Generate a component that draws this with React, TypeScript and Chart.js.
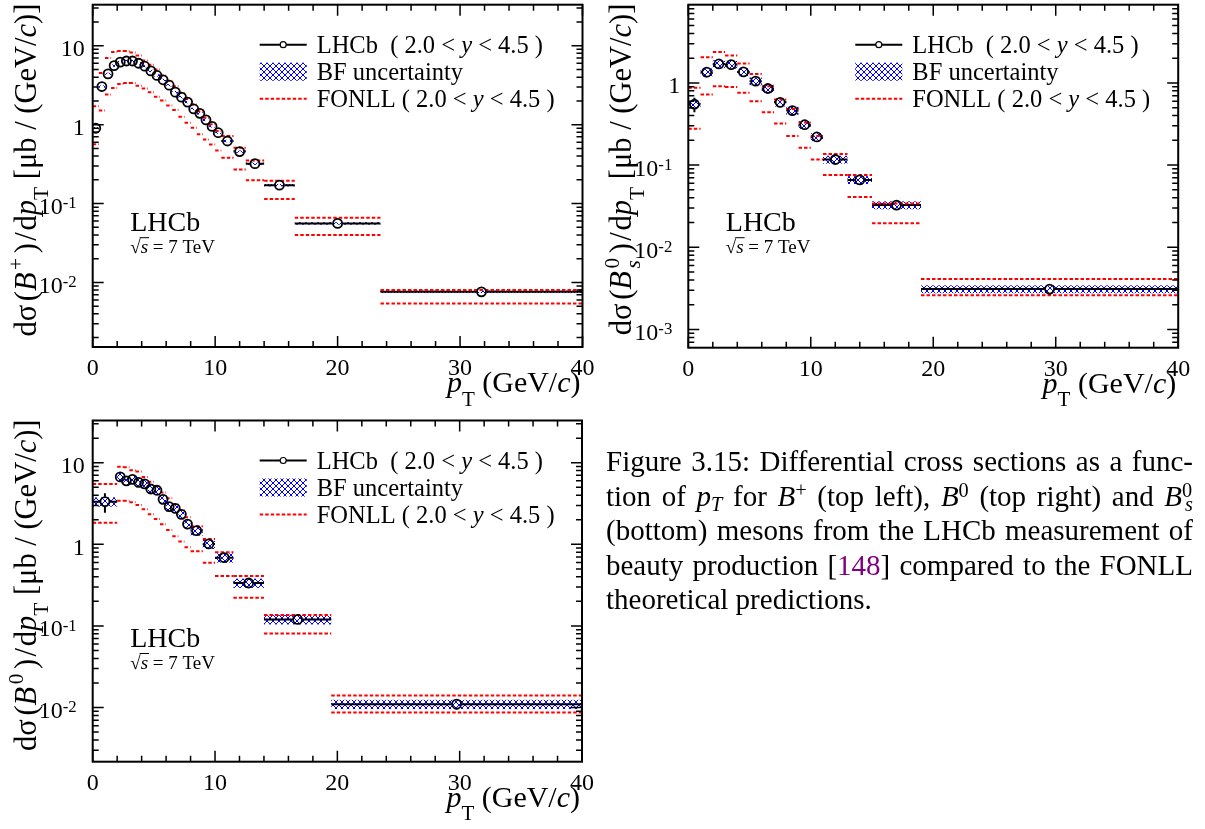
import React, { useEffect, useRef } from 'react';
import { Chart, registerables } from 'chart.js';

Chart.register(...registerables);

const SERIF = '"Liberation Serif", "Times New Roman", Times, serif';
const W = 1205;
const H = 829;

// ---------------- shared axis settings ----------------
const xTickValues = [0, 10, 20, 30, 40];
const xTickLabels = ['0', '10', '20', '30', '40'];
const xMinorStep = 2;

// ---------------- top-left panel: B+ ----------------
const bpEdges = [0, 0.5, 1, 1.5, 2, 2.5, 3, 3.5, 4, 4.5, 5, 5.5, 6, 6.5, 7, 7.5, 8, 8.5, 9, 9.5, 10, 10.5, 11.5, 12.5, 14, 16.5, 23.5, 40];
const bpValues = [0.9, 3.04, 4.4, 5.6, 6.2, 6.4, 6.4, 6.0, 5.5, 4.8, 4.2, 3.7, 3.16, 2.58, 2.23, 1.93, 1.58, 1.39, 1.15, 0.95, 0.79, 0.62, 0.455, 0.32, 0.171, 0.056, 0.0076];
const bpFonllUp = [1.71, 4.5, 7.0, 8.3, 8.55, 8.55, 8.2, 7.5, 6.5, 5.75, 5.0, 4.2, 3.6, 3.07, 2.52, 2.12, 1.8, 1.48, 1.22, 1.01, 0.83, 0.72, 0.51, 0.35, 0.195, 0.066, 0.008];
const bpFonllLow = [0.565, 1.51, 2.41, 2.92, 3.28, 3.38, 3.38, 3.12, 2.87, 2.58, 2.25, 2.02, 1.75, 1.53, 1.26, 1.06, 0.91, 0.755, 0.65, 0.56, 0.47, 0.38, 0.27, 0.197, 0.114, 0.04, 0.0054];
const bpErr = [0.08, 0.07, 0.07, 0.07, 0.07, 0.07, 0.07, 0.07, 0.07, 0.07, 0.07, 0.07, 0.07, 0.07, 0.07, 0.07, 0.07, 0.07, 0.07, 0.07, 0.07, 0.07, 0.07, 0.07, 0.07, 0.08, 0.1];
const bpBF = 0.035;
const bpYTicks = [10, 1, 0.1, 0.01];
const bpYTickLabels = ['10', '1', '10^-1', '10^-2'];

// ---------------- top-right panel: Bs0 ----------------
const bsEdges = [0, 1, 2, 3, 4, 5, 6, 7, 8, 9, 10, 11, 13, 15, 19, 40];
const bsValues = [0.55, 1.35, 1.7, 1.67, 1.36, 1.05, 0.855, 0.58, 0.46, 0.31, 0.22, 0.117, 0.066, 0.0326, 0.0031];
const bsFonllUp = [0.87, 2.05, 2.37, 2.16, 1.72, 1.28, 0.91, 0.63, 0.48, 0.33, 0.226, 0.136, 0.076, 0.034, 0.0041];
const bsFonllLow = [0.277, 0.72, 0.91, 0.89, 0.76, 0.6, 0.44, 0.32, 0.226, 0.163, 0.117, 0.076, 0.041, 0.0196, 0.0026];
const bsErr = [0.2, 0.14, 0.12, 0.12, 0.12, 0.12, 0.12, 0.12, 0.12, 0.12, 0.12, 0.12, 0.12, 0.13, 0.15];
const bsBF = 0.11;
const bsYTicks = [1, 0.1, 0.01, 0.001];
const bsYTickLabels = ['1', '10^-1', '10^-2', '10^-3'];

// ---------------- bottom panel: B0 ----------------
const b0Edges = [0, 2, 2.5, 3, 3.5, 4, 4.5, 5, 5.5, 6, 6.5, 7, 7.5, 8, 9, 10, 11.5, 14, 19.5, 40];
const b0Values = [3.33, 6.7, 6.0, 6.25, 5.75, 5.5, 4.76, 4.6, 3.56, 2.89, 2.76, 2.33, 1.77, 1.47, 1.01, 0.686, 0.336, 0.12, 0.011];
const b0FonllUp = [5.5, 8.9, 8.8, 8.1, 7.8, 6.7, 5.85, 5.1, 4.3, 3.66, 3.09, 2.63, 2.14, 1.66, 1.16, 0.8, 0.41, 0.136, 0.014];
const b0FonllLow = [1.84, 3.42, 3.42, 3.27, 3.03, 2.69, 2.33, 2.04, 1.76, 1.5, 1.26, 1.08, 0.92, 0.82, 0.596, 0.41, 0.222, 0.081, 0.0087];
const b0Err = [0.27, 0.1, 0.08, 0.08, 0.08, 0.08, 0.08, 0.08, 0.08, 0.08, 0.08, 0.08, 0.08, 0.08, 0.1, 0.1, 0.1, 0.1, 0.15];
const b0BF = 0.13;
const b0YTicks = [10, 1, 0.1, 0.01];
const b0YTickLabels = ['10', '1', '10^-1', '10^-2'];

// ---------------- rich text ----------------
type Seg = { t?: string; it?: boolean; sup?: string; sub?: string; supIt?: boolean; subIt?: boolean; dy?: number; pad?: number; color?: string };

const fontStr = (size: number, it?: boolean) => `${it ? 'italic ' : ''}${size}px ${SERIF}`;

function segWidth(ctx: CanvasRenderingContext2D, s: Seg, size: number, sc: number) {
  const extra = (s.pad || 0) * size;
  if (s.t !== undefined) {
    ctx.font = fontStr(size, s.it);
    return ctx.measureText(s.t).width + extra;
  }
  let w = 0;
  if (s.sup) {
    ctx.font = fontStr(size * sc, s.supIt);
    w = Math.max(w, ctx.measureText(s.sup).width);
  }
  if (s.sub) {
    ctx.font = fontStr(size * sc, s.subIt);
    w = Math.max(w, ctx.measureText(s.sub).width);
  }
  return w + extra;
}

function drawRich(
  ctx: CanvasRenderingContext2D,
  segs: Seg[],
  x: number,
  y: number,
  size: number,
  align: 'left' | 'right' | 'center',
  o: { sc?: number; supDy?: number; subDy?: number } = {}
) {
  const sc = o.sc ?? 0.7;
  const supDy = o.supDy ?? 0.4;
  const subDy = o.subDy ?? 0.3;
  const widths = segs.map((s) => segWidth(ctx, s, size, sc));
  const total = widths.reduce((a, b) => a + b, 0);
  let cx = align === 'right' ? x - total : align === 'center' ? x - total / 2 : x;
  ctx.textAlign = 'left';
  ctx.textBaseline = 'alphabetic';
  segs.forEach((s, i) => {
    ctx.fillStyle = s.color || '#000';
    if (s.t !== undefined) {
      ctx.font = fontStr(size, s.it);
      ctx.fillText(s.t, cx, y);
    } else {
      if (s.sup) {
        ctx.font = fontStr(size * sc, s.supIt);
        ctx.fillText(s.sup, cx, y - size * (s.sub ? supDy : s.dy ?? supDy));
      }
      if (s.sub) {
        ctx.font = fontStr(size * sc, s.subIt);
        ctx.fillText(s.sub, cx, y + size * (s.sup ? subDy : s.dy ?? subDy));
      }
    }
    cx += widths[i];
  });
  return total;
}

// ---------------- panel definitions ----------------
interface PanelDef {
  key: string;
  frame: { left: number; top: number; right: number; bottom: number };
  yMin: number;
  yMax: number;
  edges: number[];
  values: number[];
  fonllUp: number[];
  fonllLow: number[];
  err: number[];
  bf: number;
  yTicks: number[];
  yTickLabels: string[];
  yTitle: Seg[];
}

const head: Seg[] = [{ t: 'dσ', pad: 0.12 }, { t: '(' }, { t: 'B', it: true, pad: 0.08 }];
const tail: Seg[] = [
  { t: ')', pad: 0.08 },
  { t: '/', pad: 0.06 },
  { t: 'd' },
  { t: 'p', it: true },
  { sub: 'T', dy: 0.4 },
  { t: ' [μb / (GeV/' },
  { t: 'c', it: true },
  { t: ')]' },
];

const panels: PanelDef[] = [
  {
    key: 'bplus',
    frame: { left: 92.7, top: 4.7, right: 582.5, bottom: 347 },
    yMin: 0.00152,
    yMax: 31.6,
    edges: bpEdges,
    values: bpValues,
    fonllUp: bpFonllUp,
    fonllLow: bpFonllLow,
    err: bpErr,
    bf: bpBF,
    yTicks: bpYTicks,
    yTickLabels: bpYTickLabels,
    yTitle: [...head, { sup: '+', dy: 0.42, pad: 0.15 }, ...tail],
  },
  {
    key: 'bs',
    frame: { left: 688.3, top: 4.7, right: 1178.2, bottom: 347.7 },
    yMin: 0.000602,
    yMax: 8.55,
    edges: bsEdges,
    values: bsValues,
    fonllUp: bsFonllUp,
    fonllLow: bsFonllLow,
    err: bsErr,
    bf: bsBF,
    yTicks: bsYTicks,
    yTickLabels: bsYTickLabels,
    yTitle: [...head, { sup: '0', sub: 's', subIt: true, pad: 0.15 }, ...tail],
  },
  {
    key: 'b0',
    frame: { left: 92.7, top: 420.5, right: 582, bottom: 761.7 },
    yMin: 0.00217,
    yMax: 32.9,
    edges: b0Edges,
    values: b0Values,
    fonllUp: b0FonllUp,
    fonllLow: b0FonllLow,
    err: b0Err,
    bf: b0BF,
    yTicks: b0YTicks,
    yTickLabels: b0YTickLabels,
    yTitle: [...head, { sup: '0', dy: 0.42, pad: 0.15 }, ...tail],
  },
];

const xTitle: Seg[] = [{ t: 'p', it: true }, { sub: 'T', dy: 0.45 }, { t: ' (GeV/' }, { t: 'c', it: true }, { t: ')' }];
const legendData: Seg[] = [{ t: 'LHCb  ( 2.0 < ' }, { t: 'y', it: true }, { t: ' < 4.5 )' }];
const legendBF: Seg[] = [{ t: 'BF uncertainty' }];
const legendFonll: Seg[] = [{ t: 'FONLL ( 2.0 < ' }, { t: 'y', it: true }, { t: ' < 4.5 )' }];

const FONLL_DASH = [3.5, 2];

function makeHatch(ctx: CanvasRenderingContext2D) {
  const c = document.createElement('canvas');
  c.width = 6;
  c.height = 6;
  const g = c.getContext('2d')!;
  g.strokeStyle = '#0000ff';
  g.lineWidth = 1;
  g.beginPath();
  for (const o of [-6, 0, 6]) {
    g.moveTo(o, 0);
    g.lineTo(o + 6, 6);
    g.moveTo(o + 6, 0);
    g.lineTo(o, 6);
  }
  g.stroke();
  return ctx.createPattern(c, 'repeat')!;
}

function makePlugin(p: PanelDef, hatch: CanvasPattern) {
  return {
    id: 'panel_' + p.key,
    beforeDatasetsDraw(chart: any) {
      const { ctx, chartArea: ca } = chart;
      const xs = chart.scales.x;
      const ys = chart.scales.y;
      ctx.save();
      ctx.beginPath();
      ctx.rect(ca.left, ca.top, ca.right - ca.left, ca.bottom - ca.top);
      ctx.clip();
      // BF uncertainty boxes
      ctx.fillStyle = hatch;
      p.values.forEach((v, i) => {
        const x1 = xs.getPixelForValue(p.edges[i]);
        const x2 = xs.getPixelForValue(p.edges[i + 1]);
        const y1 = ys.getPixelForValue(v * (1 + p.bf));
        const y2 = ys.getPixelForValue(v * (1 - p.bf));
        ctx.fillRect(x1, y1, x2 - x1, y2 - y1);
      });
      // error bars
      ctx.strokeStyle = '#000';
      ctx.lineWidth = 2;
      ctx.beginPath();
      const r = 5;
      p.values.forEach((v, i) => {
        const x1 = xs.getPixelForValue(p.edges[i]);
        const x2 = xs.getPixelForValue(p.edges[i + 1]);
        const px = xs.getPixelForValue((p.edges[i] + p.edges[i + 1]) / 2);
        const py = ys.getPixelForValue(v);
        if (px - r > x1) {
          ctx.moveTo(x1, py);
          ctx.lineTo(px - r, py);
        }
        if (x2 > px + r) {
          ctx.moveTo(px + r, py);
          ctx.lineTo(x2, py);
        }
        const yt = ys.getPixelForValue(v * (1 + p.err[i]));
        const yb = ys.getPixelForValue(v * (1 - p.err[i]));
        if (py - r > yt) {
          ctx.moveTo(px, yt);
          ctx.lineTo(px, py - r);
        }
        if (yb > py + r) {
          ctx.moveTo(px, py + r);
          ctx.lineTo(px, yb);
        }
      });
      ctx.stroke();
      ctx.restore();
    },
    afterDraw(chart: any) {
      const { ctx } = chart;
      const xs = chart.scales.x;
      const ys = chart.scales.y;
      const f = p.frame;
      ctx.save();
      // ticks
      ctx.strokeStyle = '#000';
      ctx.lineWidth = 1.5;
      ctx.setLineDash([]);
      ctx.beginPath();
      for (let v = 0; v <= 40; v += xMinorStep) {
        const px = xs.getPixelForValue(v);
        const len = v % 10 === 0 ? 11 : 6;
        ctx.moveTo(px, f.bottom);
        ctx.lineTo(px, f.bottom - len);
        ctx.moveTo(px, f.top);
        ctx.lineTo(px, f.top + len);
      }
      const k0 = Math.floor(Math.log10(p.yMin));
      const k1 = Math.ceil(Math.log10(p.yMax));
      for (let k = k0; k <= k1; k++) {
        for (let m = 1; m <= 9; m++) {
          const val = m * Math.pow(10, k);
          if (val <= p.yMin * 1.0001 || val >= p.yMax * 0.9999) continue;
          const py = ys.getPixelForValue(val);
          const len = m === 1 ? 11 : 6;
          ctx.moveTo(f.left, py);
          ctx.lineTo(f.left + len, py);
          ctx.moveTo(f.right, py);
          ctx.lineTo(f.right - len, py);
        }
      }
      ctx.stroke();
      // frame
      ctx.lineWidth = 2;
      ctx.strokeRect(f.left, f.top, f.right - f.left, f.bottom - f.top);
      // x tick labels
      xTickValues.forEach((v, i) => {
        drawRich(ctx, [{ t: xTickLabels[i] }], xs.getPixelForValue(v), f.bottom + 28, 24, 'center');
      });
      // y tick labels
      p.yTicks.forEach((v, i) => {
        const lab = p.yTickLabels[i];
        const py = ys.getPixelForValue(v);
        if (lab.includes('^')) {
          const [b, e] = lab.split('^');
          drawRich(ctx, [{ t: b }, { sup: e }], f.left - 16, py + 10.5, 24, 'right', { supDy: 0.24 });
        } else {
          drawRich(ctx, [{ t: lab }], f.left - 8, py + 10.5, 24, 'right');
        }
      });
      // axis titles
      drawRich(ctx, xTitle, f.right - 2, f.bottom + 45, 30, 'right');
      ctx.save();
      ctx.translate(f.left - 57, f.top - 1);
      ctx.rotate(-Math.PI / 2);
      drawRich(ctx, p.yTitle, 0, 0, 30.5, 'right');
      ctx.restore();
      // legend
      const lx1 = f.left + 167;
      const lx2 = f.left + 214;
      const tx = f.left + 224;
      const r1 = f.top + 40;
      const r3 = f.top + 94;
      ctx.strokeStyle = '#000';
      ctx.lineWidth = 2;
      ctx.beginPath();
      ctx.moveTo(lx1, r1);
      ctx.lineTo(lx2, r1);
      ctx.stroke();
      ctx.beginPath();
      ctx.arc((lx1 + lx2) / 2, r1, 3, 0, Math.PI * 2);
      ctx.fillStyle = '#fff';
      ctx.fill();
      ctx.lineWidth = 1.2;
      ctx.stroke();
      ctx.fillStyle = hatch;
      ctx.fillRect(lx1, f.top + 58, lx2 - lx1, 18);
      ctx.strokeStyle = '#ff0000';
      ctx.lineWidth = 2;
      ctx.setLineDash(FONLL_DASH);
      ctx.beginPath();
      ctx.moveTo(lx1, r3);
      ctx.lineTo(lx2, r3);
      ctx.stroke();
      ctx.setLineDash([]);
      drawRich(ctx, legendData, tx, r1 + 8, 24.5, 'left');
      drawRich(ctx, legendBF, tx, f.top + 67 + 8, 24.5, 'left');
      drawRich(ctx, legendFonll, tx, r3 + 8, 24.5, 'left');
      // LHCb label
      drawRich(ctx, [{ t: 'LHCb' }], f.left + 37.5, f.top + 226.5, 28, 'left');
      const sx = f.left + 37.5;
      const sy = f.top + 248;
      const w1 = drawRich(ctx, [{ t: '√' }], sx, sy, 19, 'left');
      const w2 = drawRich(ctx, [{ t: 's', it: true }], sx + w1, sy, 19, 'left');
      drawRich(ctx, [{ t: ' = 7 TeV' }], sx + w1 + w2, sy, 19, 'left');
      ctx.strokeStyle = '#000';
      ctx.lineWidth = 1;
      ctx.beginPath();
      ctx.moveTo(sx + w1 - 1, sy - 15);
      ctx.lineTo(sx + w1 + w2 + 1, sy - 15);
      ctx.stroke();
      ctx.restore();
    },
  };
}

function buildConfig(p: PanelDef, hatch: CanvasPattern): any {
  const pts = p.values.map((v, i) => ({ x: (p.edges[i] + p.edges[i + 1]) / 2, y: v }));
  const steps = (arr: number[]) =>
    arr.flatMap((v, i) => [
      { x: p.edges[i], y: v },
      { x: p.edges[i + 1], y: v },
      { x: p.edges[i + 1], y: null },
    ]);
  const f = p.frame;
  const fonllStyle = {
    type: 'line',
    showLine: true,
    borderColor: '#ff0000',
    borderWidth: 2,
    borderDash: FONLL_DASH,
    pointRadius: 0,
    pointHoverRadius: 0,
    spanGaps: false,
    fill: false,
    tension: 0,
    order: 1,
  };
  return {
    type: 'scatter',
    data: {
      datasets: [
        {
          type: 'scatter',
          label: 'LHCb',
          data: pts,
          showLine: false,
          pointRadius: 4.5,
          pointHoverRadius: 4.5,
          pointBorderWidth: 1.8,
          pointBorderColor: '#000',
          pointBackgroundColor: 'rgba(0,0,0,0)',
          order: 0,
        },
        { ...fonllStyle, label: 'FONLL upper', data: steps(p.fonllUp) },
        { ...fonllStyle, label: 'FONLL lower', data: steps(p.fonllLow) },
      ],
    },
    options: {
      responsive: false,
      animation: false,
      devicePixelRatio: 1,
      events: [],
      layout: { padding: { left: f.left, top: f.top, right: W - f.right, bottom: H - f.bottom } },
      scales: {
        x: { type: 'linear', min: 0, max: 40, display: false },
        y: { type: 'logarithmic', min: p.yMin, max: p.yMax, display: false },
      },
      plugins: { legend: { display: false }, tooltip: { enabled: false } },
    },
    plugins: [makePlugin(p, hatch)],
  };
}

function PanelChart({ def }: { def: PanelDef }) {
  const ref = useRef<HTMLCanvasElement>(null);
  useEffect(() => {
    const canvas = ref.current!;
    const hatch = makeHatch(canvas.getContext('2d')!);
    const chart = new Chart(canvas, buildConfig(def, hatch));
    return () => chart.destroy();
  }, [def]);
  return (
    <canvas
      ref={ref}
      width={W}
      height={H}
      style={{ position: 'absolute', left: 0, top: 0, width: W, height: H }}
    />
  );
}

const supStyle: React.CSSProperties = { fontSize: '0.7em', lineHeight: 0, verticalAlign: '0.45em' };
const subStyle: React.CSSProperties = { fontSize: '0.7em', lineHeight: 0, verticalAlign: '-0.25em' };

function Caption() {
  const line = (last: boolean): React.CSSProperties => ({
    height: 34.5,
    textAlign: 'justify',
    textAlignLast: last ? 'left' : 'justify',
  });
  return (
    <div
      style={{
        position: 'absolute',
        left: 606,
        top: 444,
        width: 587,
        fontFamily: SERIF,
        fontSize: 29,
        lineHeight: '34.5px',
        color: '#000',
      }}
    >
      <div style={line(false)}>Figure 3.15: Differential cross sections as a func-</div>
      <div style={line(false)}>
        tion of <i>p</i>
        <sub style={subStyle}>
          <i>T</i>
        </sub>{' '}
        for <i>B</i>
        <sup style={supStyle}>+</sup> (top left), <i>B</i>
        <sup style={supStyle}>0</sup> (top right) and <i>B</i>
        <sup style={supStyle}>0</sup>
        <sub style={{ ...subStyle, marginLeft: '-0.35em' }}>
          <i>s</i>
        </sub>
      </div>
      <div style={line(false)}>(bottom) mesons from the LHCb measurement of</div>
      <div style={line(false)}>
        beauty production [<span style={{ color: '#800080' }}>148</span>] compared to the FONLL
      </div>
      <div style={line(true)}>theoretical predictions.</div>
    </div>
  );
}

export default function App() {
  return (
    <div style={{ position: 'absolute', left: 0, top: 0, width: W, height: H, background: '#fff', overflow: 'hidden' }}>
      {panels.map((p) => (
        <PanelChart key={p.key} def={p} />
      ))}
      <Caption />
    </div>
  );
}
